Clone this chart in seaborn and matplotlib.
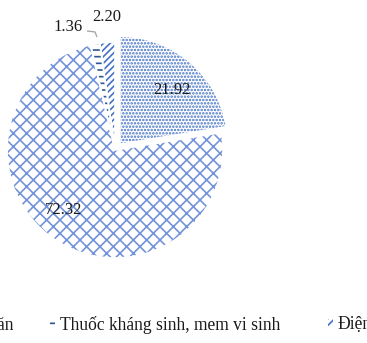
import matplotlib
matplotlib.use("Agg")
import matplotlib.pyplot as plt
import seaborn as sns
from matplotlib.patches import Wedge

# Cost structure (%)
categories = ["Con giống", "Thức ăn", "Thuốc kháng sinh, mem vi sinh", "Điện"]
shares = [21.92, 72.32, 1.36, 2.20]
value_labels = [f"{v:.2f}" for v in shares]

hatches = ["......", "xxx", "---", "//////"]
hatch_colors = ["#4472c4", "#7393da", "#2f5597", "#4472c4"]
explode = [0.07, 0, 0, 0]

sns.set_theme(style="white")
plt.rcParams["font.family"] = ["Liberation Serif", "DejaVu Serif"]
plt.rcParams["hatch.linewidth"] = 1.0

DPI = 120
W, H = 367, 343
fig = plt.figure(figsize=(W / DPI, H / DPI), dpi=DPI)
ax = fig.add_axes([0, 0, 1, 1])

wedges, _ = ax.pie(shares, explode=explode, startangle=90, counterclock=False,
                   colors=["white"] * len(shares),
                   wedgeprops=dict(linewidth=0))
for w, h, c in zip(wedges, hatches, hatch_colors):
    w.set_hatch(h)
    w.set_edgecolor(c)
    w.set_linewidth(0)

# thin white separators between slices
for w in wedges:
    ax.add_patch(Wedge(w.center, w.r, w.theta1, w.theta2,
                       facecolor="none", edgecolor="white", linewidth=1.0))

# pixel-scaled view: centre at (115, 150) px, radius 108 px
R = 108.0
ax.set_xlim(-115 / R, (W - 115) / R)
ax.set_ylim(-(H - 150) / R, 150 / R)
ax.set_aspect("auto")
ax.axis("off")

label_pos = [(0.523, 0.556), (-0.472, -0.556), (-0.431, 1.139), (-0.074, 1.227)]
for txt, (x, y) in zip(value_labels, label_pos):
    ax.text(x, y, txt, ha="center", va="center", fontsize=10, color="#1a1a1a")

# leader line for the small slice
ax.plot([-0.259, -0.185, -0.167], [1.102, 1.093, 1.046],
        color="#a6a6a6", linewidth=0.8, solid_capstyle="butt")

legend_kw = dict(loc="center left", frameon=False, handlelength=0.25,
                 handleheight=0.25, handletextpad=0.3, borderaxespad=0,
                 borderpad=0, prop=dict(family="Liberation Serif", size=10.5))
leg_main = fig.legend(wedges[:3], categories[:3], bbox_to_anchor=(0, 0.05),
                      ncol=3, columnspacing=2.1, **legend_kw)
leg_tail = fig.legend(wedges[3:], categories[3:], bbox_to_anchor=(0.8, 0.05),
                      ncol=1, **legend_kw)
for leg in (leg_main, leg_tail):
    for t in leg.get_texts():
        t.set_color("#1a1a1a")

fig.canvas.draw()


def place(leg, idx, x_target, y_target, x_anchor):
    bb = leg.get_texts()[idx].get_window_extent()
    dx = x_target - bb.x0
    dy = y_target - (bb.y0 + bb.y1) / 2
    leg.set_bbox_to_anchor((x_anchor + dx / W, 0.05 + dy / H),
                           transform=fig.transFigure)


place(leg_main, 2, 60, 18.5, 0)
place(leg_tail, 0, 338, 18.5, 0.8)

fig.savefig("out.png", dpi=DPI)
